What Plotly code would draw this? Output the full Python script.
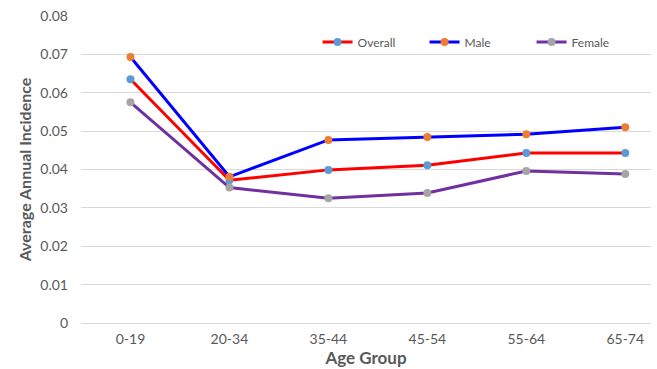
import plotly.graph_objects as go

age_groups = ["0-19", "20-34", "35-44", "45-54", "55-64", "65-74"]
overall = [0.0635, 0.0372, 0.0399, 0.0411, 0.0443, 0.0443]
male = [0.0693, 0.0381, 0.0477, 0.0485, 0.0492, 0.0510]
female = [0.0575, 0.0353, 0.0325, 0.0339, 0.0396, 0.0388]

series = [
    ("Overall", overall, "#ff0000", "#5b9bd5"),
    ("Male", male, "#0000ff", "#ed7d31"),
    ("Female", female, "#7030a0", "#a5a5a5"),
]

fig = go.Figure()
for name, vals, line_color, marker_color in series:
    fig.add_trace(go.Scatter(
        x=age_groups, y=vals, name=name, mode="lines+markers",
        line=dict(color=line_color, width=3),
        marker=dict(color=marker_color, size=8),
    ))

text_color = "#595959"
fig.update_layout(
    width=657, height=369,
    margin=dict(l=81, r=6, t=16, b=46, autoexpand=False),
    paper_bgcolor="white", plot_bgcolor="white",
    font=dict(family="Lato, Open Sans, sans-serif", color=text_color, size=13),
    legend=dict(
        orientation="h", x=0.415, y=0.915, xanchor="left", yanchor="middle",
        font=dict(size=12, color=text_color), bgcolor="rgba(0,0,0,0)",
        itemwidth=30, tracegroupgap=0, entrywidth=62, entrywidthmode="pixels",
    ),
    xaxis=dict(
        range=[-0.5, 5.26], showgrid=False, zeroline=False, ticks="",
        tickfont=dict(size=14, color=text_color), ticklabelstandoff=6,
        title=dict(text="<b>Age Group</b>", font=dict(size=17, color=text_color), standoff=2),
    ),
    yaxis=dict(
        range=[0, 0.08], dtick=0.01, showgrid=True, gridcolor="#d9d9d9", gridwidth=1,
        zeroline=True, zerolinecolor="#d9d9d9", zerolinewidth=1,
        tickvals=[0, 0.01, 0.02, 0.03, 0.04, 0.05, 0.06, 0.07, 0.08],
        ticktext=["0", "0.01", "0.02", "0.03", "0.04", "0.05", "0.06", "0.07", "0.08"],
        tickfont=dict(size=14, color=text_color), ticklabelstandoff=12,
        title=dict(text="<b>Average Annual Incidence</b>", font=dict(size=16, color=text_color), standoff=4),
    ),
)

fig.write_html("out.html")
